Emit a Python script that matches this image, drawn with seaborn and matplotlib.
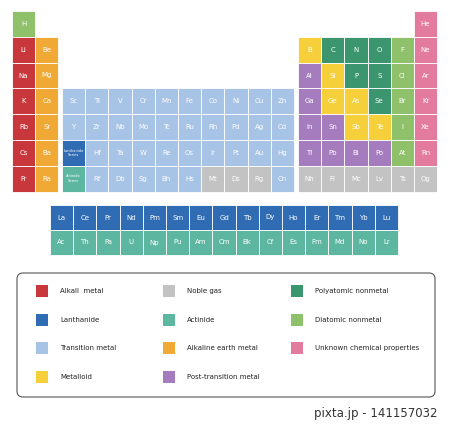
import matplotlib
matplotlib.use("Agg")
import matplotlib.pyplot as plt
from matplotlib.patches import Rectangle, FancyBboxPatch
import seaborn as sns

sns.set_theme(style="white")
plt.rcParams['font.family'] = ['DejaVu Sans']

COLORS = {
    "alkali": "#c8373b", "alkaline": "#f0a935", "transition": "#a7c3e6",
    "lanthanide": "#2f6cb3", "actinide": "#5cb6a0", "metalloid": "#f6d03b",
    "post": "#a57dbf", "poly": "#3b9670", "diatomic": "#8fc06a",
    "noble": "#c3c3c3", "unknown": "#e27b9e",
}

# main table: (symbol, group, period, category)
period1 = [("H", 1, "diatomic"), ("He", 18, "unknown")]
period2 = [("Li", 1, "alkali"), ("Be", 2, "alkaline"), ("B", 13, "metalloid"), ("C", 14, "poly"),
           ("N", 15, "poly"), ("O", 16, "poly"), ("F", 17, "diatomic"), ("Ne", 18, "unknown")]
period3 = [("Na", 1, "alkali"), ("Mg", 2, "alkaline"), ("Al", 13, "post"), ("Si", 14, "metalloid"),
           ("P", 15, "poly"), ("S", 16, "poly"), ("Cl", 17, "diatomic"), ("Ar", 18, "unknown")]
p4_tm = ["Sc", "Ti", "V", "Cr", "Mn", "Fe", "Co", "Ni", "Cu", "Zn"]
p5_tm = ["Y", "Zr", "Nb", "Mo", "Tc", "Ru", "Rh", "Pd", "Ag", "Cd"]
p6_tm = ["Lanthanide\nSeries", "Hf", "Ta", "W", "Re", "Os", "Ir", "Pt", "Au", "Hg"]
p7_tm = ["Actinide\nSeries", "Rf", "Db", "Sg", "Bh", "Hs", "Mt", "Ds", "Rg", "Cn"]
period4 = [("K", 1, "alkali"), ("Ca", 2, "alkaline"), ("Ga", 13, "post"), ("Ge", 14, "metalloid"),
           ("As", 15, "metalloid"), ("Se", 16, "poly"), ("Br", 17, "diatomic"), ("Kr", 18, "unknown")]
period5 = [("Rb", 1, "alkali"), ("Sr", 2, "alkaline"), ("In", 13, "post"), ("Sn", 14, "post"),
           ("Sb", 15, "metalloid"), ("Te", 16, "metalloid"), ("I", 17, "diatomic"), ("Xe", 18, "unknown")]
period6 = [("Cs", 1, "alkali"), ("Ba", 2, "alkaline"), ("Tl", 13, "post"), ("Pb", 14, "post"),
           ("Bi", 15, "post"), ("Po", 16, "post"), ("At", 17, "diatomic"), ("Rn", 18, "unknown")]
period7 = [("Fr", 1, "alkali"), ("Ra", 2, "alkaline"), ("Nh", 13, "noble"), ("Fl", 14, "noble"),
           ("Mc", 15, "noble"), ("Lv", 16, "noble"), ("Ts", 17, "noble"), ("Og", 18, "noble")]
lanthanides = ["La", "Ce", "Pr", "Nd", "Pm", "Sm", "Eu", "Gd", "Tb", "Dy", "Ho", "Er", "Tm", "Yb", "Lu"]
actinides = ["Ac", "Th", "Pa", "U", "Np", "Pu", "Am", "Cm", "Bk", "Cf", "Es", "Fm", "Md", "No", "Lr"]

legend_items = [("Alkali  metal", "alkali"), ("Lanthanide", "lanthanide"), ("Transition metal", "transition"),
                ("Metalloid", "metalloid"), ("Noble gas", "noble"), ("Actinide", "actinide"),
                ("Alkaline earth metal", "alkaline"), ("Post-transition metal", "post"),
                ("Polyatomic nonmetal", "poly"), ("Diatomic nonmetal", "diatomic"),
                ("Unknown chemical properties", "unknown")]

elements = []
for p, row in enumerate([period1, period2, period3, period4, period5, period6, period7], start=1):
    for s, g, c in row:
        elements.append((s, g, p, c))
for p, tm in zip([4, 5, 6, 7], [p4_tm, p5_tm, p6_tm, p7_tm]):
    for i, s in enumerate(tm):
        c = "transition"
        if s.startswith("Lanthanide"): c = "lanthanide"
        if s.startswith("Actinide"): c = "actinide"
        if s in ("Mt", "Ds", "Rg"): c = "noble"
        elements.append((s, 3 + i, p, c))

fig = plt.figure(figsize=(4.5, 4.24), dpi=100)
ax = fig.add_axes([0, 0, 1, 1])
ax.set_xlim(0, 450); ax.set_ylim(424, 0); ax.axis("off")

W, H = 23.2, 25.8
def xpos(g):
    if g <= 2: return 12 + (g - 1) * W
    if g <= 12: return 62 + (g - 3) * W
    return 298 + (g - 13) * W

for s, g, p, c in elements:
    x, y = xpos(g), 11 + (p - 1) * H
    ax.add_patch(Rectangle((x, y), W, H, facecolor=COLORS[c], edgecolor="white", lw=0.6))
    fs = 2.6 if "\n" in s else 5
    ax.text(x + W / 2, y + H / 2, s, color="white", fontsize=fs, ha="center", va="center")

for k, (row, cat) in enumerate([(lanthanides, "lanthanide"), (actinides, "actinide")]):
    for i, s in enumerate(row):
        x, y = 50 + i * W, 205 + k * 25
        ax.add_patch(Rectangle((x, y), W, 25, facecolor=COLORS[cat], edgecolor="white", lw=0.6))
        ax.text(x + W / 2, y + 12.5, s, color="white", fontsize=5, ha="center", va="center")

ax.add_patch(FancyBboxPatch((17, 273), 418, 124, boxstyle="round,pad=0,rounding_size=6",
                            facecolor="white", edgecolor="#555555", lw=0.8))
col_x = [36, 163, 291]
row_y = [291, 320, 348, 377]
for i, (lab, cat) in enumerate(legend_items):
    cx, ry = col_x[i // 4], row_y[i % 4]
    ax.add_patch(Rectangle((cx, ry - 6), 12, 12, facecolor=COLORS[cat], edgecolor="none"))
    ax.text(cx + 24, ry, lab, fontsize=5, ha="left", va="center", color="#222222")

ax.text(438, 413, "pixta.jp - 141157032", fontsize=8.5, ha="right", va="center", color="#333333")
fig.savefig("out.png", dpi=100)
